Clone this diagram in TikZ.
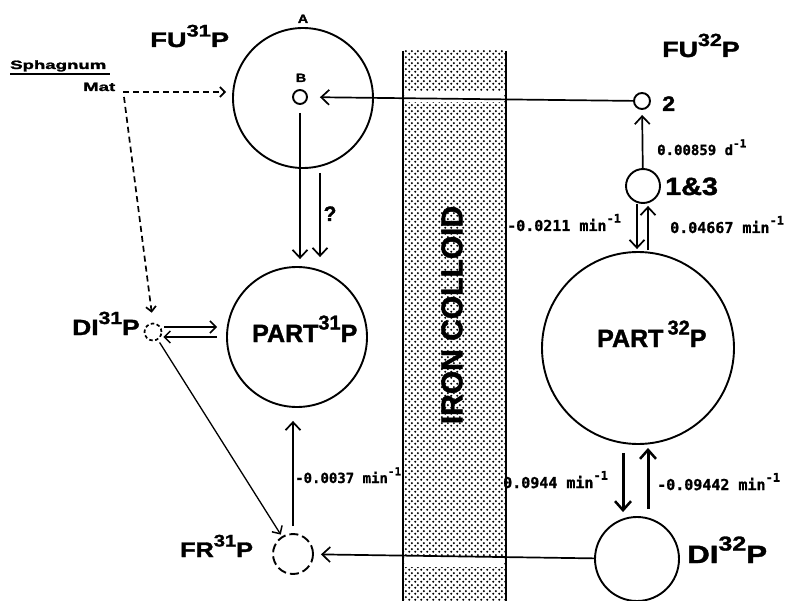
\documentclass[tikz,border=0pt]{standalone}
\usepackage{fontspec}
\usepackage{graphicx}
\setmainfont{Liberation Sans}
\newfontfamily\labfont[BoldFeatures={FakeBold=1.5}]{Liberation Sans}
\newfontfamily\numfont[BoldFeatures={FakeBold=1}]{DejaVu Sans Mono}
\usetikzlibrary{arrows.meta,patterns.meta,calc}
\tikzdeclarepattern{
  name=cdots,
  bounding box={(0pt,0pt) and (6pt,6pt)},
  tile size={(6pt,6pt)},
  code={
    \fill[black] (1.5pt,1.5pt) circle (1.3pt);
    \fill[black] (4.5pt,4.5pt) circle (1.3pt);
  }
}
\newcommand{\iso}[4][1]{\scalebox{#1}[1]{#2\raisebox{0.5em}{\scalebox{0.8}{#3}}#4}}
\newcommand{\fsz}[1]{\fontsize{#1}{#1}\selectfont}
\newcommand{\supm}[1]{\raisebox{0.55em}{\fsz{#1}-1}}
\begin{document}
\begin{tikzpicture}[x=1pt,y=-1pt,
  circ/.style={circle,draw,line width=1.9pt,inner sep=0pt},
  dcirc/.style={circ,dash pattern=on 9pt off 4pt},
  ddcirc/.style={circ,line width=1.7pt,dash pattern=on 3.5pt off 2.5pt},
  arr/.style={line width=1.7pt,-{Straight Barb[length=8pt,width=15pt,line width=1.7pt]}},
  sarr/.style={line width=1.5pt,-{Straight Barb[length=6pt,width=12pt,line width=1.5pt]}},
  tarr/.style={line width=3pt,-{Straight Barb[length=9pt,width=16pt,line width=2.5pt]}},
  darr/.style={line width=1.7pt,dash pattern=on 6pt off 4pt,-{Straight Barb[length=5pt,width=10pt,line width=1.7pt]}},
  lab/.style={inner sep=0pt,anchor=base west,font=\labfont\bfseries},
  num/.style={inner sep=0pt,anchor=base west,font=\numfont\bfseries}]
\useasboundingbox (0,0) rectangle (789,601);
\fill[white] (0,0) rectangle (789,601);

% iron colloid band
\fill[pattern=cdots] (403,51) rectangle (506,601);
\fill[white] (405,92) rectangle (504,102);
\fill[white] (405,556) rectangle (504,567);
\draw[line width=2.2pt] (403,51) -- (403,601);
\draw[line width=2.2pt] (506,51) -- (506,601);
\node[inner sep=0pt,rotate=90,font=\labfont\bfseries\fsz{30}] (iron) at (452,315) {IRON COLLOID};

% circles
\node[circ,minimum size=140pt] (FU31) at (303,98) {};
\node[circ,minimum size=14pt] (B) at (300,97) {};
\node[circ,minimum size=140pt] (PART31) at (297,337) {};
\node[ddcirc,minimum size=17pt] (DI31) at (153,332) {};
\node[dcirc,minimum size=40pt] (FR31) at (293,554) {};
\node[circ,minimum size=16pt] (c2) at (642,101) {};
\node[circ,minimum size=34pt] (c13) at (643,186) {};
\node[circ,minimum size=192pt] (PART32) at (638,348) {};
\node[circ,minimum size=84pt] (DI32) at (637,559) {};

% labels
\node[lab,font=\labfont\bfseries\fsz{21}] (lFU31) at (150,47) {\iso[1.3]{FU}{31}{P}};
\node[lab,font=\labfont\bfseries\fsz{22}] (lFU32) at (662,57) {\iso[1.22]{FU}{32}{P}};
\node[lab,font=\labfont\bfseries\fsz{25}] (lPART31) at (252,342) {\iso{PART}{31}{P}};
\node[lab,font=\labfont\bfseries\fsz{25}] (lPART32) at (597,347) {\iso{PART\,}{32}{P}};
\node[lab,font=\labfont\bfseries\fsz{22}] (lDI31) at (72,335) {\iso[1.2]{DI}{31}{P}};
\node[lab,font=\labfont\bfseries\fsz{21}] (lFR31) at (180,557) {\iso[1.2]{FR}{31}{P}};
\node[lab,font=\labfont\bfseries\fsz{25}] (lDI32) at (687,563) {\iso[1.25]{DI}{32}{P}};
\node[lab,font=\labfont\bfseries\fsz{25}] (l13) at (665,195) {\scalebox{1.15}[1]{1\&3}};
\node[lab,font=\labfont\bfseries\fsz{21}] (l2) at (662,111) {\scalebox{1.1}[1]{2}};
\node[lab,anchor=base,font=\labfont\bfseries\fsz{12}] (lA) at (303,23) {\scalebox{1.2}[1]{A}};
\node[lab,anchor=base,font=\labfont\bfseries\fsz{12}] (lB) at (301,82) {\scalebox{1.2}[1]{B}};
\node[lab,anchor=base,font=\labfont\bfseries\fsz{21}] (lq) at (330,221) {?};
\node[lab,font=\labfont\bfseries\fsz{12}] (lsph) at (10,69) {\scalebox{1.55}[1]{Sphagnum}};
\node[lab,font=\labfont\bfseries\fsz{12}] (lmat) at (83,91) {\scalebox{1.55}[1]{Mat}};
\draw[line width=1.6pt] ([yshift=-5pt]lsph.base west) -- ([yshift=-5pt,xshift=4pt]lsph.base east);

% rate labels
\node[num,font=\numfont\bfseries\fsz{14}] (r1) at (657,155) {0.00859 d\supm{11}};
\node[num,font=\numfont\bfseries\fsz{15}] (r2) at (507,231) {-0.0211 min\supm{12}};
\node[num,font=\numfont\bfseries\fsz{15}] (r3) at (670,233) {0.04667 min\supm{12}};
\node[num,font=\numfont\bfseries\fsz{15}] (r4) at (503,488) {0.0944 min\supm{12}};
\node[num,font=\numfont\bfseries\fsz{15}] (r5) at (657,490) {-0.09442 min\supm{12}};
\node[num,font=\numfont\bfseries\fsz{14}] (r6) at (295,483) {-0.0037 min\supm{11}};

% connectors
\coordinate (sph) at (123,92);
\coordinate (sphd) at (124,97);
\draw[darr,shorten >=6pt] (sph) -- (sph -| FU31.west);
\draw[darr,shorten >=10pt] (sphd) -- (DI31.north);
\draw[arr,shorten >=12pt] (c2) -- (B);
\draw[arr,shorten >=5pt] (c13) -- (c2);
\draw[arr,line width=1.9pt,shorten >=2pt] ([xshift=-6pt]c13.south) -- ([xshift=-6pt]c13.south |- PART32.north);
\draw[arr,line width=1.9pt,shorten <=1pt,shorten >=2pt] ([xshift=5pt]c13.south |- PART32.north) -- ([xshift=5pt]c13.south);
\draw[tarr,shorten >=4pt] ([xshift=-15pt,yshift=-8pt]PART32.south) -- ([xshift=-15pt]PART32.south |- DI32.north);
\draw[tarr,shorten >=3pt] ([xshift=11pt,yshift=7pt]DI32.north) -- ([xshift=11pt]DI32.north |- PART32.south);
\draw[arr,shorten >=7pt] (DI32) -- (FR31);
\draw[arr,shorten <=7pt,shorten >=13pt] (FR31.north) -- (FR31.north |- PART31.south);
\draw[sarr,line width=1.3pt,shorten <=3pt,shorten >=2pt] (DI31) -- (FR31);
\draw[sarr,shorten <=2pt,shorten >=9pt] ([yshift=5pt]DI31.east) -- ([yshift=5pt]DI31.east -| PART31.west);
\draw[sarr,shorten <=9pt,shorten >=1pt] ([yshift=-5pt]DI31.east -| PART31.west) -- ([yshift=-5pt]DI31.east);
\draw[arr,shorten <=8pt,shorten >=7pt] (B.south) -- (B.south |- PART31.north);
\draw[arr,shorten >=9pt] ([xshift=17pt,yshift=-4pt]FU31.south) -- ([xshift=17pt]FU31.south |- PART31.north);
\end{tikzpicture}
\end{document}
